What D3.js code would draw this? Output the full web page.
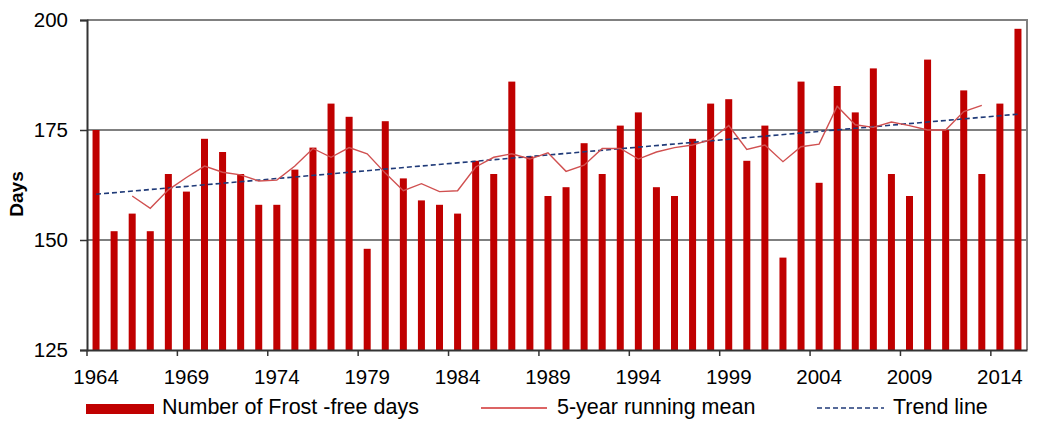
<!DOCTYPE html>
<html>
<head>
<meta charset="utf-8">
<script src="https://cdn.jsdelivr.net/npm/d3@7"></script>
<style>
  body { margin: 0; background: #fff; }
  svg { display: block; font-family: "Liberation Sans", Arial, sans-serif; }
</style>
</head>
<body>
<svg width="1037" height="423"></svg>
<script>
// frost-free days per year
const years = d3.range(1964, 2016)
const frostFree = [
  175, 152, 156, 152, 165, 161, 173, 170, 165, 158,
  158, 166, 171, 181, 178, 148, 177, 164, 159, 158,
  156, 168, 165, 186, 169, 160, 162, 172, 165, 176,
  179, 162, 160, 173, 181, 182, 168, 176, 146, 186,
  163, 185, 179, 189, 165, 160, 191, 175, 184, 165,
  181, 198
]

// 5-year running mean, 1966 .. 2013
const meanYears = d3.range(1966, 2014)
const runningMean = [
  160.0, 157.2, 161.4, 164.2, 166.8, 165.4, 164.8, 163.4, 163.6, 166.8,
  170.8, 168.8, 171.0, 169.6, 165.2, 161.2, 162.8, 161.0, 161.2, 166.6,
  168.8, 169.6, 168.4, 169.8, 165.6, 167.0, 170.8, 170.8, 168.4, 170.0,
  171.0, 171.6, 172.8, 176.0, 170.6, 171.6, 167.8, 171.2, 171.8, 180.4,
  176.2, 175.6, 176.8, 176.0, 175.0, 175.0, 179.2, 180.6
]

// trend line end points
const trendYears = [1964, 2015]
const trendValues = [160.4, 178.6]

const yTicks = [125, 150, 175, 200]
const xLabelYears = [1964, 1969, 1974, 1979, 1984, 1989, 1994, 1999, 2004, 2009, 2014]

const svg = d3.select("svg")
const margin = {top: 20, right: 10, bottom: 73, left: 87}
const width = +svg.attr("width")
const height = +svg.attr("height")
const plotRight = width - margin.right
const plotBottom = height - margin.bottom

const x = d3.scaleBand()
    .domain(years)
    .range([margin.left, plotRight])
const bw = x.bandwidth()
const cx = yr => x(yr) + bw / 2

const y = d3.scaleLinear()
    .domain([125, 200])
    .range([plotBottom, margin.top])

// gridlines
svg.append("g").selectAll("line")
    .data(yTicks.filter(t => t > 125))
    .join("line")
    .attr("x1", margin.left).attr("x2", plotRight)
    .attr("y1", d => y(d)).attr("y2", d => y(d))
    .attr("stroke", d => d === 150 ? "#000" : "#808080")
    .attr("stroke-width", d => d === 150 ? 1.2 : 2)

// right border
svg.append("line")
    .attr("x1", plotRight).attr("x2", plotRight)
    .attr("y1", margin.top - 1).attr("y2", plotBottom)
    .attr("stroke", "#808080").attr("stroke-width", 2)

// bars
const barW = 7
svg.append("g").selectAll("rect")
    .data(frostFree)
    .join("rect")
    .attr("x", (d, i) => cx(years[i]) - barW / 2)
    .attr("width", barW)
    .attr("y", d => y(d))
    .attr("height", d => plotBottom - y(d))
    .attr("fill", "#c00000")

// trend line
const line = d3.line().x(d => cx(d[0])).y(d => y(d[1]))
svg.append("path")
    .datum(d3.zip(trendYears, trendValues))
    .attr("d", line)
    .attr("fill", "none")
    .attr("stroke", "#1f3a78")
    .attr("stroke-width", 1.6)
    .attr("stroke-dasharray", "5,3")

// running mean
svg.append("path")
    .datum(d3.zip(meanYears, runningMean))
    .attr("d", line)
    .attr("fill", "none")
    .attr("stroke", "#d05050")
    .attr("stroke-width", 1.4)

// y axis
const yAxis = svg.append("g")
    .attr("transform", `translate(${margin.left},0)`)
    .call(d3.axisLeft(y).tickValues(yTicks).tickSize(7).tickPadding(12))
yAxis.select(".domain").attr("stroke", "#333").attr("stroke-width", 2)
yAxis.selectAll(".tick line").attr("stroke", "#333").attr("stroke-width", 1.5)
yAxis.selectAll("text").attr("font-size", 20.5).attr("fill", "#000")
    .attr("font-family", "Liberation Sans, Arial, sans-serif")

// x axis
const xAxis = svg.append("g")
    .attr("transform", `translate(0,${plotBottom})`)
    .call(d3.axisBottom(x).tickValues(xLabelYears).tickSize(6).tickSizeOuter(0))
xAxis.select(".domain").attr("stroke", "#333").attr("stroke-width", 2)
xAxis.selectAll(".tick line")
    .attr("x1", -bw / 2).attr("x2", -bw / 2)
    .attr("stroke", "#333").attr("stroke-width", 1.5)
xAxis.selectAll("text")
    .attr("y", 34).attr("dy", 0)
    .attr("font-size", 20.5).attr("fill", "#000")
    .attr("font-family", "Liberation Sans, Arial, sans-serif")

// y title
svg.append("text")
    .attr("transform", "translate(23,194) rotate(-90)")
    .attr("text-anchor", "middle")
    .attr("font-size", 19)
    .attr("font-weight", "bold")
    .text("Days")

// legend
const lg = svg.append("g").attr("font-size", 21.5)
lg.append("rect").attr("x", 86).attr("y", 404).attr("width", 68).attr("height", 10).attr("fill", "#c00000")
lg.append("text").attr("x", 162).attr("y", 414).text("Number of Frost -free days")
lg.append("line").attr("x1", 481).attr("x2", 547).attr("y1", 408).attr("y2", 408)
    .attr("stroke", "#d03030").attr("stroke-width", 1.5)
lg.append("text").attr("x", 557).attr("y", 414).text("5-year running mean")
lg.append("line").attr("x1", 817).attr("x2", 884).attr("y1", 408).attr("y2", 408)
    .attr("stroke", "#1f3a78").attr("stroke-width", 1.4).attr("stroke-dasharray", "5,3")
lg.append("text").attr("x", 893).attr("y", 414).text("Trend line")
</script>
</body>
</html>
